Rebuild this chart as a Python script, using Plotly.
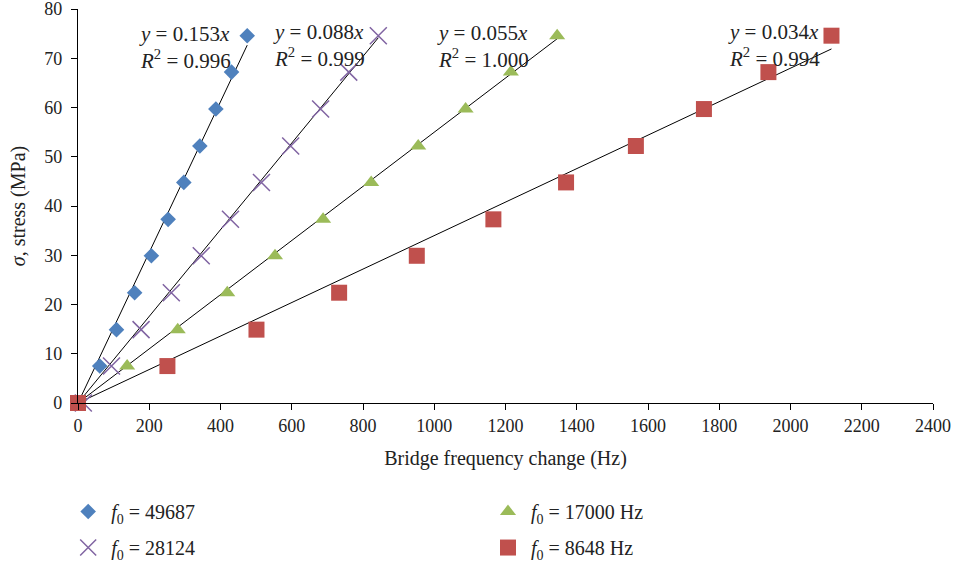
import plotly.graph_objects as go

stress = [0, 7.5, 14.9, 22.4, 29.9, 37.3, 44.8, 52.2, 59.7, 67.2, 74.6]

x_49687 = [0, 61, 108, 159, 206, 253, 297, 342, 387, 431, 475]
x_28124 = [15, 94, 177, 262, 346, 428, 515, 597, 681, 760, 843]
x_17000 = [0, 138, 280, 419, 553, 688, 823, 955, 1088, 1215, 1345]
x_8648 = [0, 251, 501, 733, 951, 1166, 1370, 1566, 1757, 1938, 2115]

slopes = [0.153, 0.088, 0.055, 0.034]
r2 = ["0.996", "0.999", "1.000", "0.994"]
names = ["<i>f</i><sub>0</sub> = 49687", "<i>f</i><sub>0</sub> = 28124",
         "<i>f</i><sub>0</sub> = 17000 Hz", "<i>f</i><sub>0</sub> = 8648 Hz"]
x_ticks = list(range(0, 2400 + 1, 200))
y_ticks = list(range(0, 80 + 1, 10))

colors = ["#4F81BD", "#8064A2", "#9BBB59", "#C0504D"]
symbols = ["diamond", "x-thin-open", "triangle-up", "square"]
sizes = [12, 17, 14, 16]
legends = ["legend", "legend", "legend2", "legend2"]
xs = [x_49687, x_28124, x_17000, x_8648]
label_pos = [(165, 72.3), (543, 72.6), (1002, 72.5), (1820, 72.6)]

FONT = "Liberation Serif"
fig = go.Figure()

for i in range(4):
    xmax = max(xs[i])
    fig.add_trace(go.Scatter(
        x=[0, xmax], y=[0, slopes[i] * xmax], mode="lines",
        line=dict(color="black", width=1), showlegend=False, hoverinfo="skip"))

for i in range(4):
    fig.add_trace(go.Scatter(
        x=xs[i], y=stress, mode="markers", name=names[i], legend=legends[i],
        legendgroup=f"g{i}", cliponaxis=False,
        marker=dict(symbol=symbols[i], size=sizes[i], color=colors[i],
                    line=dict(color=colors[i], width=1.5 if i == 1 else 0))))

for i in range(4):
    fig.add_annotation(
        x=label_pos[i][0], y=label_pos[i][1], xref="x", yref="y",
        xanchor="left", yanchor="middle",
        text=f"<i>y</i> = {slopes[i]:.3f}<i>x</i><br><i>R</i><sup>2</sup> = {r2[i]}",
        showarrow=False, align="left", font=dict(family=FONT, size=21, color="#222"))

fig.update_layout(
    width=956, height=566,
    margin=dict(l=78, r=23, t=9, b=163, autoexpand=False),
    paper_bgcolor="white", plot_bgcolor="white",
    font=dict(family=FONT, size=18, color="#222"),
    xaxis=dict(range=[0, 2400], tickvals=x_ticks, showgrid=False, zeroline=False,
               showline=True, linecolor="black", linewidth=1.2, ticks="outside",
               ticklen=6, tickcolor="black", automargin=False,
               title=dict(text="Bridge frequency change (Hz)", standoff=16,
                          font=dict(family=FONT, size=20))),
    yaxis=dict(range=[0, 80.02], tickvals=y_ticks, showgrid=False, zeroline=False,
               showline=True, linecolor="black", linewidth=1.2, ticks="outside",
               ticklen=6, tickcolor="black", ticklabelstandoff=5,
               ticklabeloverflow="allow", automargin=False,
               title=dict(text="<i>σ</i>, stress (MPa)", standoff=13,
                          font=dict(family=FONT, size=20))),
    legend=dict(x=-0.015, y=-0.226, xanchor="left", yanchor="top",
                font=dict(family=FONT, size=20), tracegroupgap=7, itemwidth=36,
                bgcolor="rgba(0,0,0,0)"),
    legend2=dict(x=0.476, y=-0.226, xanchor="left", yanchor="top",
                 font=dict(family=FONT, size=20), tracegroupgap=7, itemwidth=36,
                 bgcolor="rgba(0,0,0,0)"),
)

fig.write_html("out.html")
